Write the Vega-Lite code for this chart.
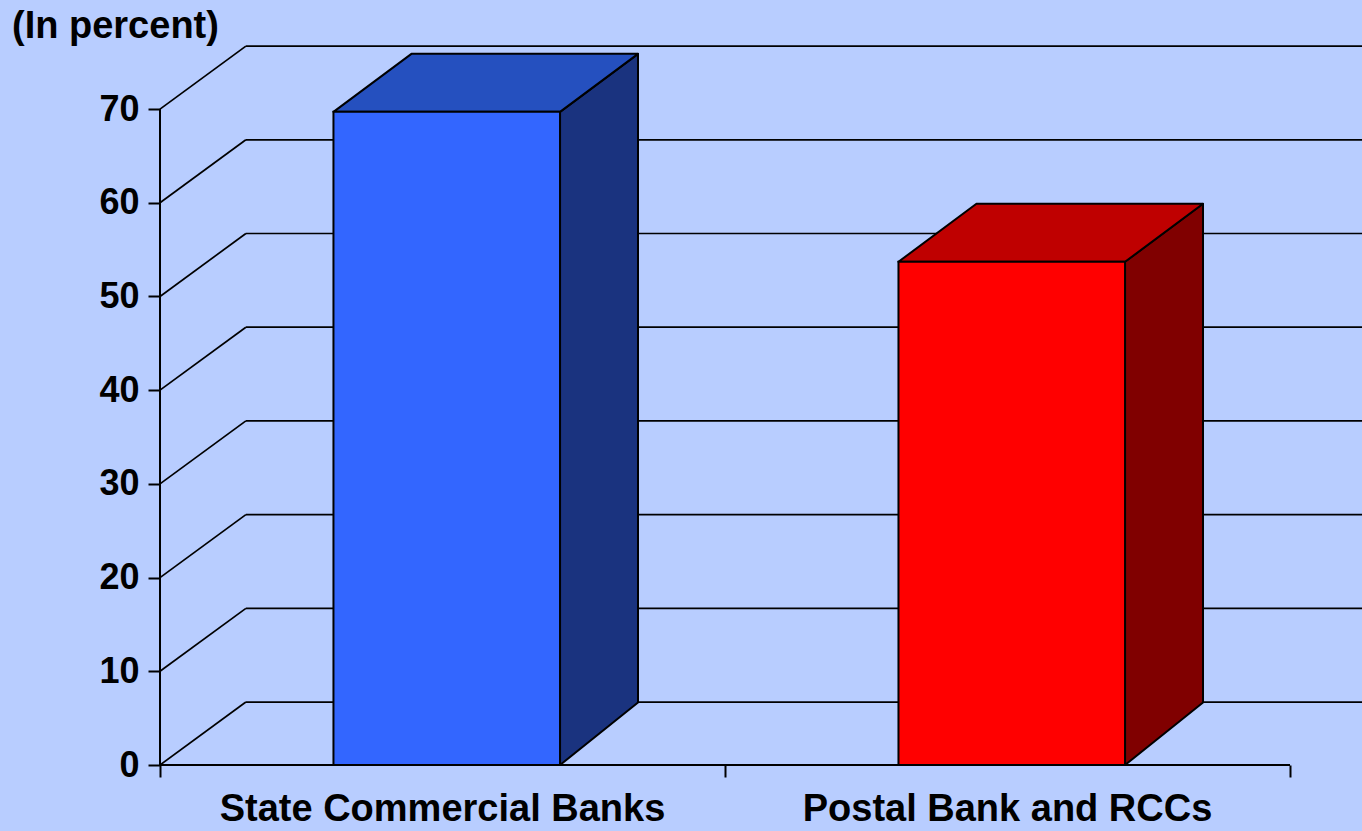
{
  "$schema": "https://vega.github.io/schema/vega-lite/v6.json",
  "width": 1202,
  "height": 725,
  "autosize": {"type": "none"},
  "padding": {"left": 160, "top": 40, "right": 0, "bottom": 66},
  "background": "#B8CDFF",
  "config": {"view": {"stroke": null}, "font": "Liberation Sans"},
  "title": {"text": "(In percent)", "anchor": "start", "frame": "group", "dx": -148, "dy": 40, "offset": 4, "fontSize": 38, "fontWeight": "bold", "color": "black", "font": "Liberation Sans", "baseline": "alphabetic"},
  "datasets": {
    "bars": [
      {"category": "State Commercial Banks", "value": 69.7},
      {"category": "Postal Bank and RCCs", "value": 53.7}
    ],
    "ticks": [{"t": 0}, {"t": 10}, {"t": 20}, {"t": 30}, {"t": 40}, {"t": 50}, {"t": 60}, {"t": 70}]
  },
  "layer": [
    {
      "data": {"name": "ticks"},
      "transform": [
        {"calculate": "datum.t + 6.72", "as": "yb"},
        {"calculate": "0.152", "as": "xa"},
        {"calculate": "2.13", "as": "xb"}
      ],
      "mark": {"type": "rule", "color": "black", "strokeWidth": 1.7},
      "encoding": {
        "x": {"field": "xa", "type": "quantitative", "title": null,
          "scale": {"domain": [0, 2.1274], "nice": false, "zero": false},
          "axis": {"values": [0, 1, 2], "labels": false, "domain": false, "grid": false, "ticks": true, "tickSize": 12, "tickWidth": 2, "tickColor": "black", "title": null}},
        "x2": {"field": "xb"},
        "y": {"field": "yb", "type": "quantitative", "title": null,
          "scale": {"domain": [0, 77.37], "nice": false, "zero": false},
          "axis": {"values": [0, 10, 20, 30, 40, 50, 60, 70], "domain": false, "grid": false, "tickSize": 12, "tickWidth": 2, "tickColor": "black", "labelFontSize": 36, "labelFontWeight": "bold", "labelColor": "black", "labelFont": "Liberation Sans", "labelPadding": 9, "title": null}}
      }
    },
    {
      "data": {"name": "ticks"},
      "transform": [
        {"calculate": "datum.t + 6.72", "as": "yb"},
        {"calculate": "0", "as": "xa"},
        {"calculate": "0.152", "as": "xb"}
      ],
      "mark": {"type": "rule", "color": "black", "strokeWidth": 1.7},
      "encoding": {
        "x": {"field": "xa", "type": "quantitative", "title": null},
        "x2": {"field": "xb"},
        "y": {"field": "t", "type": "quantitative", "title": null},
        "y2": {"field": "yb"}
      }
    },
    {
      "data": {"name": "bars"},
      "transform": [
        {"window": [{"op": "row_number", "as": "rn"}]},
        {"calculate": "datum.rn - 1", "as": "idx"},
        {"calculate": "0", "as": "f0"},
        {"calculate": "1", "as": "f1"},
        {"fold": ["f0", "f1"], "as": ["k", "d"]},
        {"calculate": "datum.idx + 0.708 + datum.d * 0.138", "as": "sx"},
        {"calculate": "datum.d * 6.67", "as": "sy0"},
        {"calculate": "datum.value + datum.d * 6.19", "as": "sy1"}
      ],
      "mark": {"type": "area", "orient": "vertical", "stroke": "black", "strokeWidth": 2, "strokeJoin": "round"},
      "encoding": {
        "x": {"field": "sx", "type": "quantitative", "title": null},
        "y": {"field": "sy1", "type": "quantitative", "title": null, "stack": null},
        "y2": {"field": "sy0"},
        "fill": {"field": "category", "type": "nominal", "legend": null,
          "scale": {"domain": ["State Commercial Banks", "Postal Bank and RCCs"], "range": ["#1A337F", "#800000"]}}
      }
    },
    {
      "data": {"name": "bars"},
      "transform": [
        {"window": [{"op": "row_number", "as": "rn"}]},
        {"calculate": "datum.rn - 1", "as": "idx"},
        {"calculate": "0", "as": "f0"},
        {"calculate": "1", "as": "f1"},
        {"fold": ["f0", "f1"], "as": ["k", "d"]},
        {"calculate": "datum.idx + 0.307 + datum.d * 0.138", "as": "tx0"},
        {"calculate": "datum.idx + 0.708 + datum.d * 0.138", "as": "tx1"},
        {"calculate": "datum.value + datum.d * 6.19", "as": "ty"}
      ],
      "mark": {"type": "area", "orient": "horizontal", "stroke": "black", "strokeWidth": 2, "strokeJoin": "round"},
      "encoding": {
        "y": {"field": "ty", "type": "quantitative", "title": null},
        "x": {"field": "tx0", "type": "quantitative", "title": null, "stack": null},
        "x2": {"field": "tx1"},
        "fill": {"field": "category", "type": "nominal", "legend": null,
          "scale": {"domain": ["State Commercial Banks", "Postal Bank and RCCs"], "range": ["#2550BF", "#BF0000"]}}
      }
    },
    {
      "data": {"name": "bars"},
      "transform": [
        {"window": [{"op": "row_number", "as": "rn"}]},
        {"calculate": "datum.rn - 1", "as": "idx"},
        {"calculate": "datum.idx + 0.307", "as": "fx0"},
        {"calculate": "datum.idx + 0.708", "as": "fx1"}
      ],
      "mark": {"type": "rect", "stroke": "black", "strokeWidth": 2},
      "encoding": {
        "x": {"field": "fx0", "type": "quantitative", "title": null},
        "x2": {"field": "fx1"},
        "y": {"field": "value", "type": "quantitative", "title": null},
        "y2": {"datum": 0},
        "fill": {"field": "category", "type": "nominal", "legend": null,
          "scale": {"domain": ["State Commercial Banks", "Postal Bank and RCCs"], "range": ["#3366FF", "#FF0000"]}}
      }
    },
    {
      "data": {"values": [{}]},
      "mark": {"type": "rule", "color": "black", "strokeWidth": 2},
      "encoding": {
        "x": {"datum": 0, "type": "quantitative"},
        "x2": {"datum": 2},
        "y": {"datum": 0, "type": "quantitative"}
      }
    },
    {
      "data": {"values": [{}]},
      "mark": {"type": "rule", "color": "black", "strokeWidth": 2},
      "encoding": {
        "x": {"datum": 0, "type": "quantitative"},
        "y": {"datum": 0, "type": "quantitative"},
        "y2": {"datum": 70}
      }
    },
    {
      "data": {"name": "bars"},
      "transform": [
        {"window": [{"op": "row_number", "as": "rn"}]},
        {"calculate": "datum.rn - 0.5", "as": "cx"}
      ],
      "mark": {"type": "text", "fontSize": 38, "fontWeight": "bold", "font": "Liberation Sans", "color": "black", "baseline": "alphabetic", "align": "center", "dy": 56},
      "encoding": {
        "x": {"field": "cx", "type": "quantitative", "title": null},
        "y": {"datum": 0, "type": "quantitative"},
        "text": {"field": "category", "type": "nominal"}
      }
    }
  ],
  "resolve": {"scale": {"fill": "independent"}}
}
